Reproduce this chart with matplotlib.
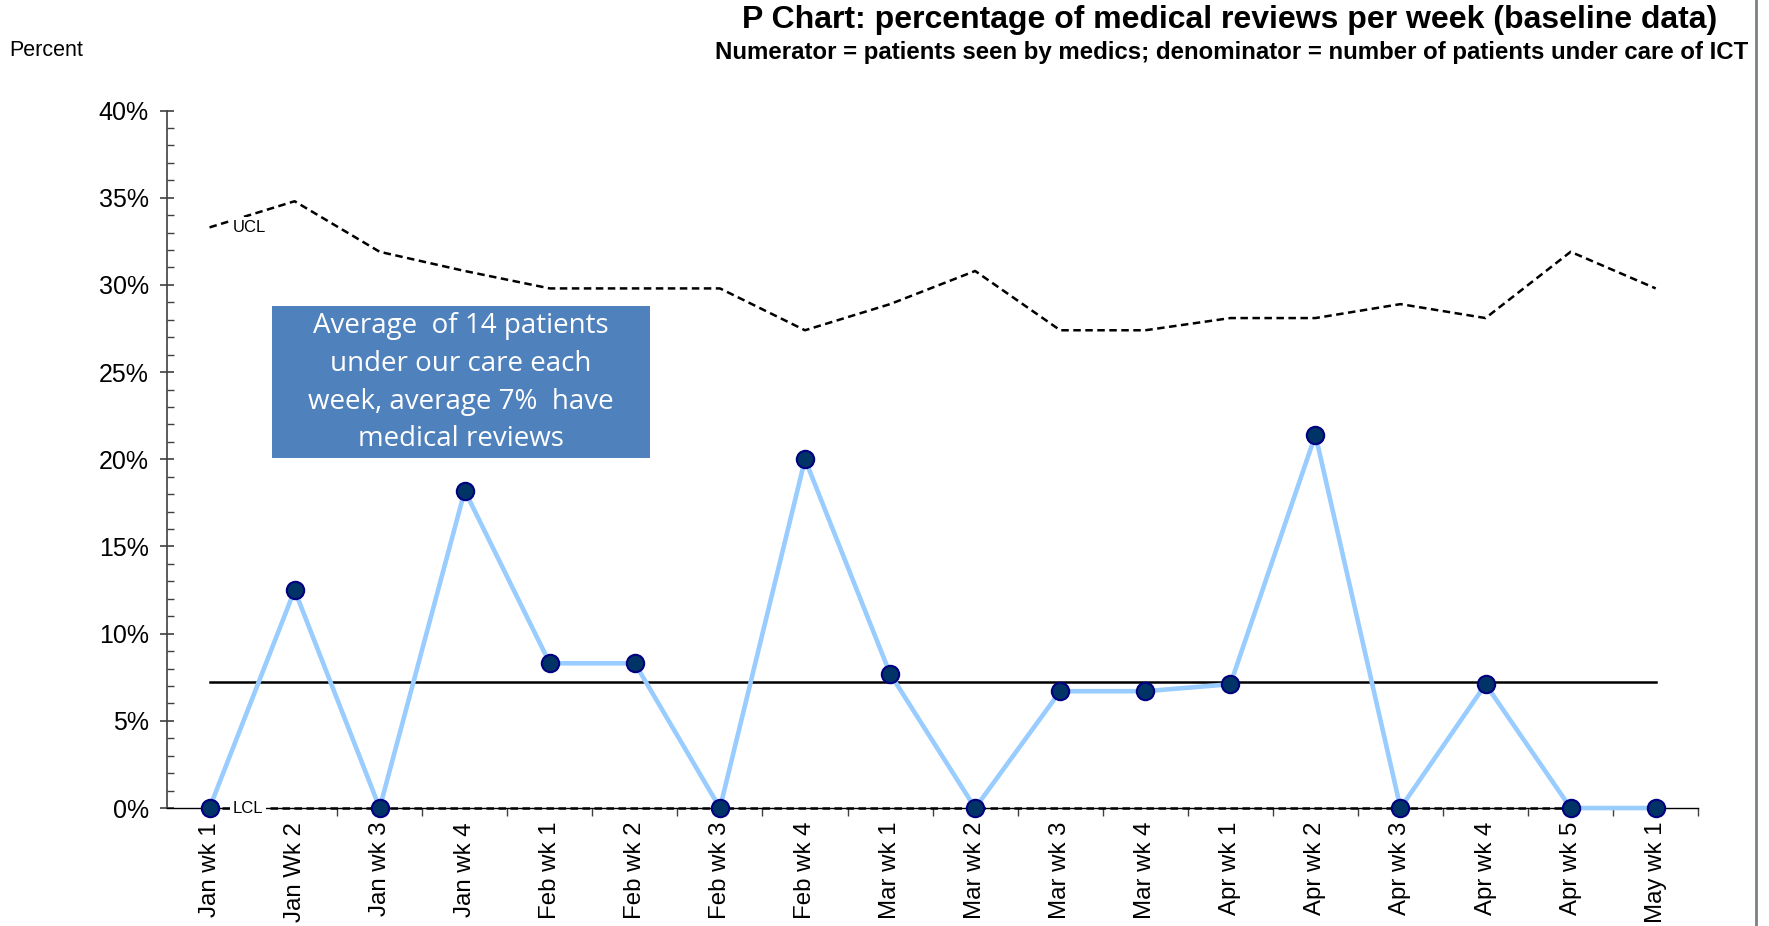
import matplotlib
matplotlib.use("Agg")
import matplotlib.pyplot as plt
from matplotlib.ticker import MultipleLocator, FuncFormatter
from matplotlib.lines import Line2D
from matplotlib.patches import Rectangle

categories = ["Jan wk 1", "Jan Wk 2", "Jan wk 3", "Jan wk 4", "Feb wk 1", "Feb wk 2",
              "Feb wk 3", "Feb wk 4", "Mar wk 1", "Mar wk 2", "Mar wk 3", "Mar wk 4",
              "Apr wk 1", "Apr wk 2", "Apr wk 3", "Apr wk 4", "Apr wk 5", "May wk 1"]
percent = [0.0, 12.5, 0.0, 18.2, 8.3, 8.3, 0.0, 20.0, 7.7, 0.0, 6.7, 6.7,
           7.1, 21.4, 0.0, 7.1, 0.0, 0.0]
ucl = [33.3, 34.8, 31.9, 30.8, 29.8, 29.8, 29.8, 27.4, 28.9, 30.8, 27.4, 27.4,
       28.1, 28.1, 28.9, 28.1, 31.9, 29.8]
lcl = [0.0] * 18
mean_value = 7.25

plt.rcParams['font.family'] = ['Liberation Sans', 'DejaVu Sans']

fig = plt.figure(figsize=(17.69, 9.26), dpi=100)
ax = fig.add_axes([0.0944, 0.1274, 0.8656, 0.7532])

x = list(range(len(categories)))

ax.plot(x, percent, color="#99CCFF", lw=3.3, zorder=4, clip_on=False)
ax.plot(x, percent, ls="none", marker="o", ms=12.5, mfc="#003366", mec="#000080",
        mew=1.5, zorder=5, clip_on=False)
ax.plot(x, ucl, color="black", ls=(0, (3, 1.8)), lw=1.8, zorder=3)
ax.plot(x, lcl, color="black", ls=(0, (3, 1.8)), lw=1.8, zorder=3, clip_on=False)
ax.plot([x[0], x[-1]], [mean_value, mean_value], color="black", lw=1.8, zorder=3)

ax.text(0.27, ucl[0], "UCL", fontsize=12, va="center", ha="left",
        bbox=dict(facecolor="white", edgecolor="none", pad=2), zorder=3.5)
ax.text(0.27, 0, "LCL", fontsize=12, va="center", ha="left",
        bbox=dict(facecolor="white", edgecolor="none", pad=2), zorder=3.5,
        clip_on=False)

ax.set_xlim(-0.5, len(categories) - 0.5)
ax.set_ylim(0, 40)

ax.yaxis.set_major_locator(MultipleLocator(5))
ax.yaxis.set_minor_locator(MultipleLocator(1))
ax.yaxis.set_major_formatter(FuncFormatter(lambda v, p: f"{int(round(v))}%"))
ax.tick_params(axis="y", which="major", direction="inout", length=10, width=1.2,
               labelsize=18, color="#404040", pad=8)
ax.tick_params(axis="y", which="minor", direction="in", length=5, width=1.0,
               color="#404040")

ax.set_xticks(x)
ax.set_xticklabels(categories, rotation=90, fontsize=17.3)
ax.tick_params(axis="x", which="major", length=0, pad=10)
ax.set_xticks([i - 0.5 for i in range(1, len(categories) + 1)], minor=True)
ax.tick_params(axis="x", which="minor", direction="out", length=6, width=1.0,
               color="#404040")

for s in ["top", "right"]:
    ax.spines[s].set_visible(False)
ax.spines["left"].set_color("#404040")
ax.spines["left"].set_linewidth(1.2)
ax.spines["bottom"].set_color("black")
ax.spines["bottom"].set_linewidth(1.0)

ax.add_patch(Rectangle((0.73, 20.06), 4.45, 8.74, facecolor="#4F81BD",
                       edgecolor="none", zorder=6))
ax.text(2.955, 24.4,
        "Average  of 14 patients\nunder our care each\nweek, average 7%  have\nmedical reviews",
        ha="center", va="center", color="white", fontsize=20,
        family=["Open Sans", "DejaVu Sans"], linespacing=1.47, zorder=7)

fig.text(1717 / 1769, 1 - 20 / 926,
         "P Chart: percentage of medical reviews per week (baseline data)",
         ha="right", va="center", fontsize=23, fontweight="bold")
fig.text(1748 / 1769, 1 - 53 / 926,
         "Numerator = patients seen by medics; denominator = number of patients under care of ICT",
         ha="right", va="center", fontsize=17.3, fontweight="bold")
fig.text(9 / 1769, 1 - 51 / 926, "Percent", ha="left", va="center", fontsize=15.5)

fig.add_artist(Line2D([1756 / 1769, 1756 / 1769], [0, 1], color="#808080", lw=2,
                      transform=fig.transFigure))

fig.savefig("out.png", dpi=100, facecolor="white")
